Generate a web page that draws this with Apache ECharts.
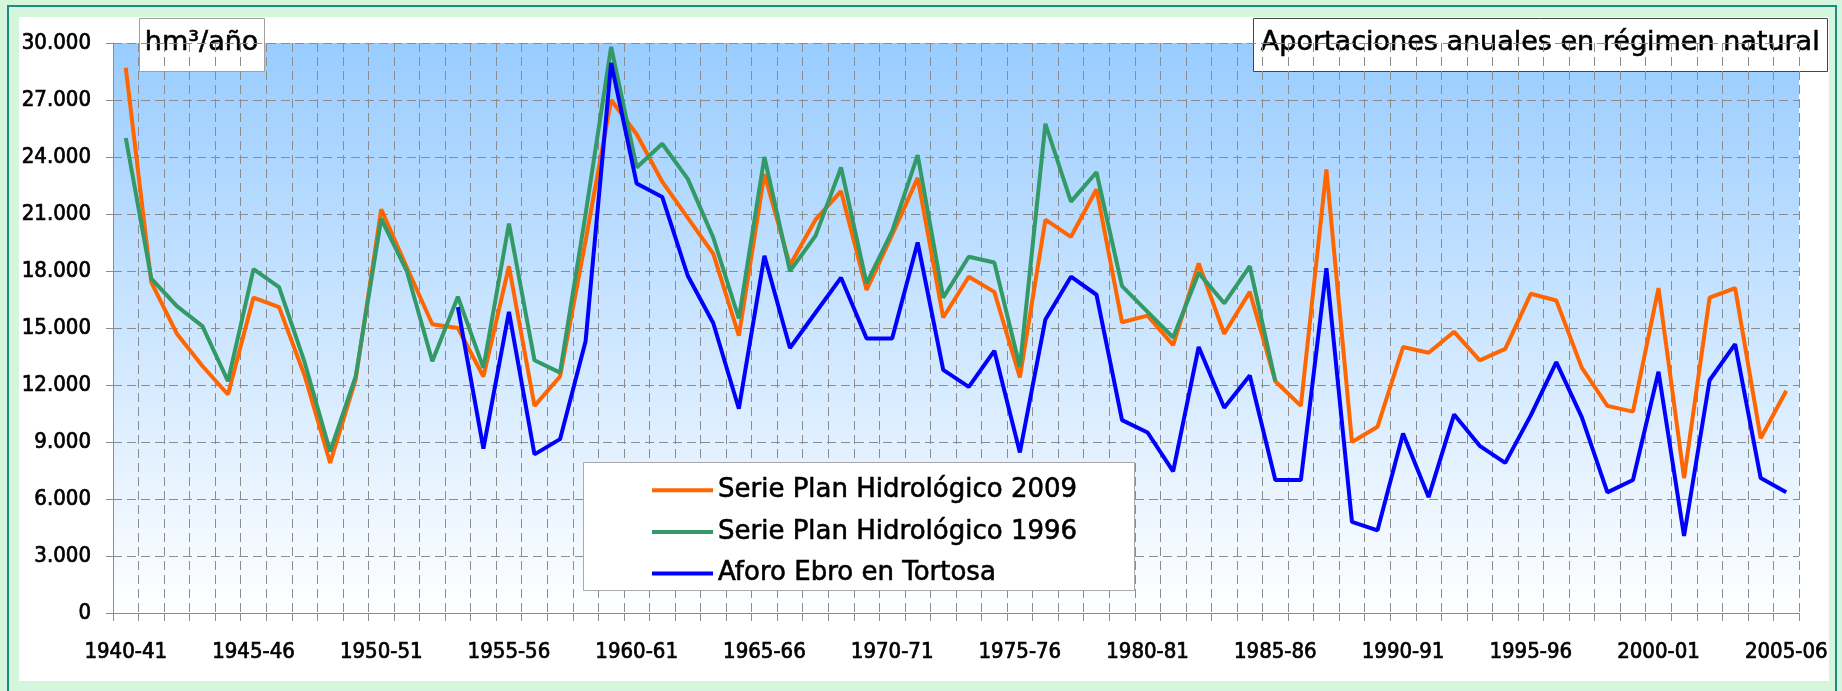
<!DOCTYPE html>
<html>
<head>
<meta charset="utf-8">
<script src="https://cdn.jsdelivr.net/npm/echarts@6/dist/echarts.min.js"></script>
<style>
  html, body { margin: 0; padding: 0; }
  body { width: 1842px; height: 691px; background: #d3f6dc; position: relative; overflow: hidden; }
  #marco { position: absolute; left: 7px; top: 5px; width: 1830px; height: 700px; border: 2px solid #1b8c84; box-sizing: border-box; }
  #panel { position: absolute; left: 19px; top: 17px; width: 1810px; height: 664px; background: #fff; }
  #grafico { position: absolute; left: 0; top: 0; width: 1842px; height: 691px; }
</style>
</head>
<body>
<div id="marco"></div>
<div id="panel"></div>
<div id="grafico"></div>
<script>
// años hidrológicos
var anios = ['1940-41','1941-42','1942-43','1943-44','1944-45','1945-46','1946-47','1947-48','1948-49','1949-50',
             '1950-51','1951-52','1952-53','1953-54','1954-55','1955-56','1956-57','1957-58','1958-59','1959-60',
             '1960-61','1961-62','1962-63','1963-64','1964-65','1965-66','1966-67','1967-68','1968-69','1969-70',
             '1970-71','1971-72','1972-73','1973-74','1974-75','1975-76','1976-77','1977-78','1978-79','1979-80',
             '1980-81','1981-82','1982-83','1983-84','1984-85','1985-86','1986-87','1987-88','1988-89','1989-90',
             '1990-91','1991-92','1992-93','1993-94','1994-95','1995-96','1996-97','1997-98','1998-99','1999-00',
             '2000-01','2001-02','2002-03','2003-04','2004-05','2005-06'];

// hm3/año
var serie2009 = [28700,17400,14700,13000,11500,16600,16100,12500,7900,12300,
                 21250,18200,15200,15000,12450,18250,10900,12450,19600,27000,
                 25200,22700,20800,18900,14600,23100,18300,20700,22200,17000,
                 19900,22900,15550,17700,16900,12400,20700,19800,22300,15300,
                 15650,14100,18400,14700,16900,12200,10900,23350,9000,9800,
                 14000,13700,14800,13300,13900,16800,16450,12900,10900,10600,
                 17100,7100,16600,17100,9200,11700];

var serie1996 = [25000,17600,16150,15100,12200,18100,17150,13200,8500,12450,
                 20750,18000,13250,16650,12900,20500,13300,12650,21000,29800,
                 23450,24700,22850,19750,15500,24000,18000,19850,23450,17350,
                 20100,24100,16600,18750,18450,12950,25750,21650,23200,17200,
                 15850,14500,17900,16300,18250,12200,null,null,null,null,
                 null,null,null,null,null,null,null,null,null,null,
                 null,null,null,null,null,null];

var aforoTortosa = [null,null,null,null,null,null,null,null,null,null,
                    null,null,null,16100,8650,15850,8350,9150,14300,28950,
                    22600,21900,17750,15250,10750,18800,13950,15800,17650,14450,
                    14450,19500,12800,11900,13800,8450,15450,17700,16750,10150,
                    9500,7450,14000,10800,12500,7000,7000,18150,4800,4350,
                    9450,6100,10450,8800,7900,10400,13200,10300,6350,7000,
                    12700,4050,12250,14150,7100,6350];

var nombres = ['Serie Plan Hidrológico 2009', 'Serie Plan Hidrológico 1996', 'Aforo Ebro en Tortosa'];
var colores = ['#ff6600', '#339966', '#0000ff'];

var myChart = echarts.init(document.getElementById('grafico'), null, {renderer: 'canvas'});

function miles(v) {
    return v === 0 ? '0' : String(v).replace(/\B(?=(\d{3})+(?!\d))/g, '.');
}

function serieLinea(i, datos) {
    return {
        name: nombres[i],
        type: 'line',
        data: datos,
        symbol: 'none',
        connectNulls: false,
        lineStyle: {color: colores[i], width: 4},
        itemStyle: {color: colores[i]}
    };
}

var gris = '#8c8c8c';

var option = {
    animation: false,
    backgroundColor: 'transparent',
    grid: {
        left: 113, right: 43, top: 43, bottom: 78,
        show: true, borderWidth: 0,
        backgroundColor: {
            type: 'linear', x: 0, y: 0, x2: 0, y2: 1,
            colorStops: [{offset: 0, color: '#99ccff'}, {offset: 1, color: '#ffffff'}]
        }
    },
    legend: {
        orient: 'vertical',
        left: 647, top: 472,
        itemWidth: 61, itemHeight: 4, itemGap: 15,
        icon: 'rect',
        z: 6,
        textStyle: {fontFamily: 'DejaVu Sans', fontSize: 26, color: '#000', lineHeight: 26,
                    textBorderColor: '#000', textBorderWidth: 0.6},
        data: nombres
    },
    xAxis: {
        type: 'category',
        data: anios,
        boundaryGap: true,
        axisLine: {lineStyle: {color: gris, width: 1}},
        axisTick: {show: true, interval: 0, length: 8, lineStyle: {color: gris}},
        axisLabel: {
            interval: 4, margin: 28, color: '#000',
            fontFamily: 'DejaVu Sans Condensed', fontSize: 22,
            textBorderColor: '#000', textBorderWidth: 0.7
        },
        splitLine: {show: true, interval: 0, lineStyle: {color: gris, type: [9, 5], width: 1}}
    },
    yAxis: {
        type: 'value',
        min: 0, max: 30000, interval: 3000,
        axisLine: {show: true, lineStyle: {color: gris, width: 1}},
        axisTick: {show: true, length: 7, lineStyle: {color: gris}},
        axisLabel: {
            margin: 22, color: '#000',
            fontFamily: 'DejaVu Sans Condensed', fontSize: 22,
            textBorderColor: '#000', textBorderWidth: 0.7,
            formatter: miles
        },
        splitLine: {show: true, lineStyle: {color: gris, type: [9, 5], width: 1}}
    },
    graphic: [
        // caja de la leyenda
        {type: 'rect', left: 583, top: 462, z: 1,
         shape: {width: 551, height: 128},
         style: {fill: '#fff', stroke: '#aaaaaa', lineWidth: 1}},
        // unidades
        {type: 'group', left: 139, top: 18, z: 10, children: [
            {type: 'rect', shape: {width: 125, height: 53},
             style: {fill: '#fff', stroke: '#a0a0a0', lineWidth: 1}},
            {type: 'text', left: 5, top: 11,
             style: {text: 'hm³/año', fill: '#000', font: '27px "DejaVu Sans"',
                     stroke: '#000', lineWidth: 0.6}}
        ]},
        // titulo
        {type: 'group', left: 1253, top: 18, z: 10, children: [
            {type: 'rect', shape: {width: 574, height: 53},
             style: {fill: '#fff', stroke: '#444', lineWidth: 1}},
            {type: 'text', left: 7, top: 11,
             style: {text: 'Aportaciones anuales en régimen natural', fill: '#000', font: '27px "DejaVu Sans"',
                     stroke: '#000', lineWidth: 0.6}}
        ]}
    ],
    series: [
        serieLinea(0, serie2009),
        serieLinea(1, serie1996),
        serieLinea(2, aforoTortosa)
    ]
};

myChart.setOption(option);
</script>
</body>
</html>
